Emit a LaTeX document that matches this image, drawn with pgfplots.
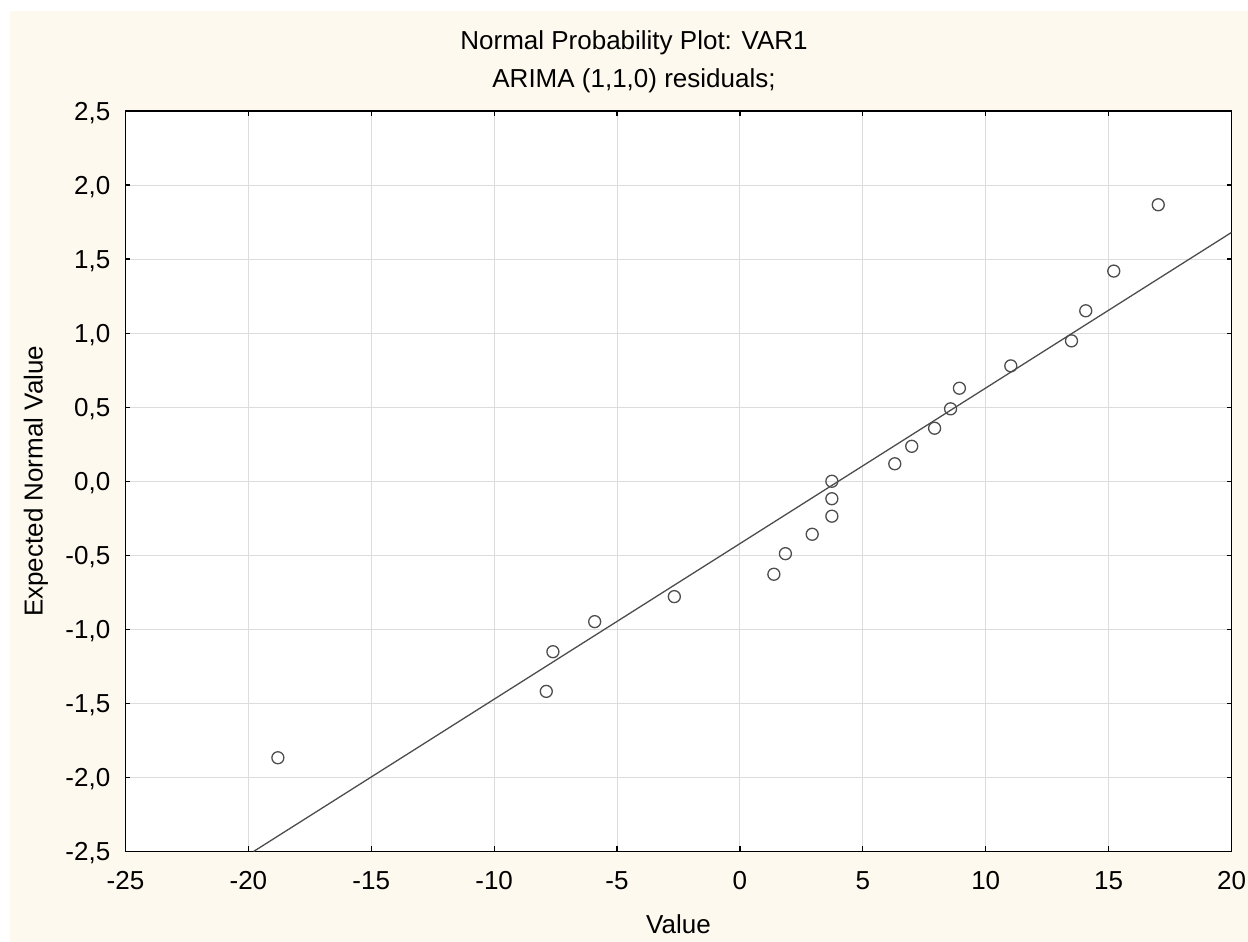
\documentclass[border=0pt]{standalone}
\usepackage{fontspec}
\setmainfont{Liberation Sans}
\usepackage{pgfplots}
\pgfplotsset{compat=1.18}
\definecolor{cream}{HTML}{FEF9EE}
\definecolor{gridgray}{HTML}{DCDCDC}
\definecolor{markgray}{HTML}{4D4D4D}
\newcommand{\lblfont}{\fontsize{13pt}{15.6pt}\selectfont}
\begin{document}
\begin{tikzpicture}
\path[use as bounding box, fill=white] (-62.75pt,-45.25pt) rectangle (561.25pt,425.75pt);
\fill[cream] (-57.75pt,-45.25pt) rectangle (561.25pt,420.25pt);
\begin{axis}[
  scale only axis,
  width=553pt, height=370.25pt,
  xmin=-25, xmax=20, ymin=-2.5, ymax=2.5,
  axis background/.style={fill=white},
  axis line style={black, line width=0.7pt},
  xtick={-25,-20,...,20},
  ytick={-2.5,-2,...,2.5},
  xticklabels={-25,-20,-15,-10,-5,0,5,10,15,20},
  yticklabels={{-2,5},{-2,0},{-1,5},{-1,0},{-0,5},{0,0},{0,5},{1,0},{1,5},{2,0},{2,5}},
  tick align=inside,
  major tick length=2.5pt,
  tick style={black, line width=0.6pt},
  grid=major,
  major grid style={gridgray, line width=0.5pt},
  xticklabel style={font=\lblfont, inner sep=0pt, anchor=base, yshift=-18.9pt},
  yticklabel style={font=\lblfont, inner sep=0pt, anchor=base east, xshift=-7.4pt, yshift=-4.6pt},
  xlabel={Value},
  ylabel={Expected Normal Value},
  xlabel style={font=\lblfont, inner sep=0pt, at={(axis description cs:0.5,0)}, anchor=base, yshift=-41.25pt},
  ylabel style={font=\lblfont, inner sep=0pt, at={(axis description cs:-0.0750,0.5)}, rotate=0, anchor=base},
  clip=true,
]
\addplot[color=markgray, line width=0.65pt] coordinates {(-19.79,-2.5) (20,1.68)};
\addplot[only marks, mark=o, mark size=3pt, color=markgray, mark options={line width=0.65pt, fill=none}] coordinates {
(-18.80,-1.867)
(-7.88,-1.419)
(-7.61,-1.151)
(-5.91,-0.948)
(-2.67,-0.779)
(1.38,-0.628)
(1.85,-0.489)
(2.94,-0.358)
(3.74,-0.236)
(3.74,-0.118)
(3.74,0)
(6.30,0.118)
(6.99,0.236)
(7.92,0.358)
(8.57,0.489)
(8.93,0.628)
(11.02,0.779)
(13.49,0.948)
(14.07,1.151)
(15.21,1.419)
(17.02,1.867)
};
\end{axis}
\node[font=\lblfont, inner sep=0pt, anchor=base] at (254.25pt,400.75pt) {Normal Probability Plot: VAR1};
\node[font=\lblfont, inner sep=0pt, anchor=base] at (254.25pt,381.75pt) {ARIMA (1,1,0) residuals;};
\end{tikzpicture}
\end{document}
